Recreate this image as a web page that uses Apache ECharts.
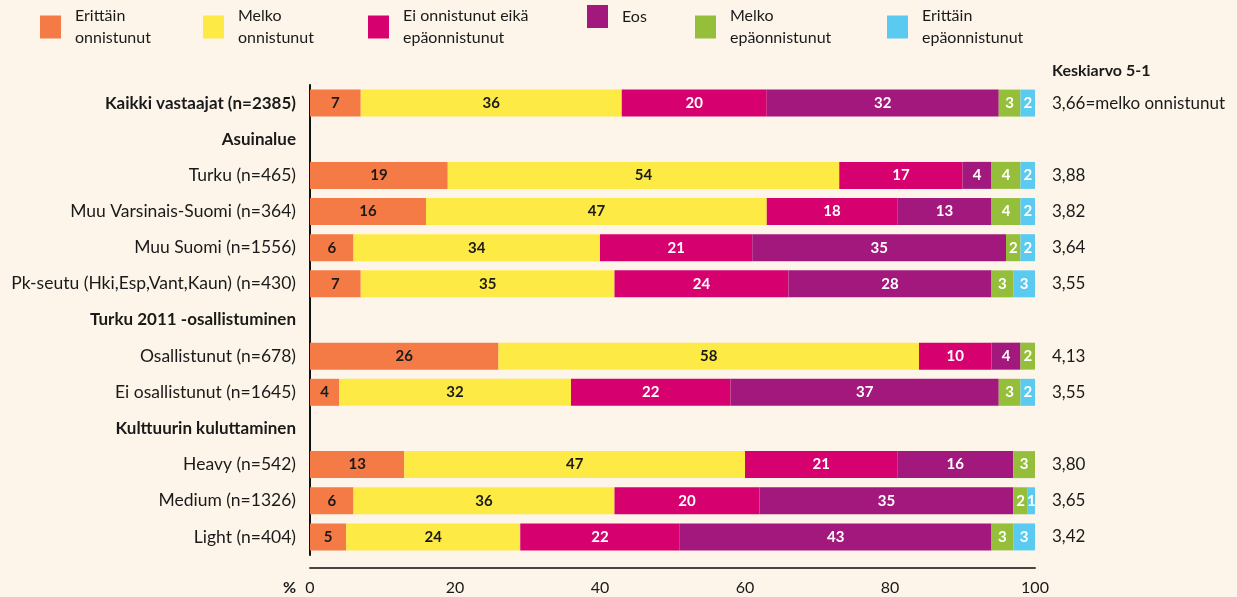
<!DOCTYPE html>
<html>
<head>
<meta charset="utf-8">
<script src="https://cdn.jsdelivr.net/npm/echarts@6/dist/echarts.min.js"></script>
<style>
  html, body { margin: 0; padding: 0; background: #fdf5e9; }
  #chart { width: 1237px; height: 597px; }
</style>
</head>
<body>
<div id="chart"></div>
<script>
// rows top to bottom, group headers have no bar
const categories = [
  'Kaikki vastaajat (n=2385)', 'Asuinalue', 'Turku (n=465)', 'Muu Varsinais-Suomi (n=364)',
  'Muu Suomi (n=1556)', 'Pk-seutu (Hki,Esp,Vant,Kaun) (n=430)', 'Turku 2011 -osallistuminen',
  'Osallistunut (n=678)', 'Ei osallistunut (n=1645)', 'Kulttuurin kuluttaminen',
  'Heavy (n=542)', 'Medium (n=1326)', 'Light (n=404)'
]
const boldRows = ['Kaikki vastaajat (n=2385)', 'Asuinalue', 'Turku 2011 -osallistuminen', 'Kulttuurin kuluttaminen']

const erittainOnnistunut = [7, null, 19, 16, 6, 7, null, 26, 4, null, 13, 6, 5]
const melkoOnnistunut = [36, null, 54, 47, 34, 35, null, 58, 32, null, 47, 36, 24]
const eiEika = [20, null, 17, 18, 21, 24, null, 10, 22, null, 21, 20, 22]
const eos = [32, null, 4, 13, 35, 28, null, 4, 37, null, 16, 35, 43]
const melkoEpaonnistunut = [3, null, 4, 4, 2, 3, null, 2, 3, null, 3, 2, 3]
const erittainEpaonnistunut = [2, null, 2, 2, 2, 3, null, null, 2, null, null, 1, 3]

const means = ['3,66=melko onnistunut', '', '3,88', '3,82', '3,64', '3,55', '', '4,13', '3,55', '', '3,80', '3,65', '3,42']
const xTicks = { min: 0, max: 100, interval: 20 }

const seriesDefs = [
  { name: 'Erittäin\nonnistunut', data: erittainOnnistunut, color: '#f47a46', text: '#1a1a1a', left: 40 },
  { name: 'Melko\nonnistunut', data: melkoOnnistunut, color: '#feea45', text: '#1a1a1a', left: 203 },
  { name: 'Ei onnistunut eikä\nepäonnistunut', data: eiEika, color: '#d6006f', text: '#ffffff', left: 368 },
  { name: 'Eos', data: eos, color: '#a3187c', text: '#ffffff', left: 587 },
  { name: 'Melko\nepäonnistunut', data: melkoEpaonnistunut, color: '#95be3b', text: '#ffffff', left: 695 },
  { name: 'Erittäin\nepäonnistunut', data: erittainEpaonnistunut, color: '#5bcaf0', text: '#ffffff', left: 887 }
]

const font = 'Lato'
var myChart = echarts.init(document.getElementById('chart'))

var option = {
  backgroundColor: '#fdf5e9',
  textStyle: { fontFamily: font },
  title: {
    text: 'Keskiarvo 5-1',
    left: 1052, top: 63, padding: 0,
    textStyle: { fontFamily: font, fontSize: 16, fontWeight: 'bold', color: '#1a1a1a' }
  },
  legend: seriesDefs.map(d => ({
    data: [d.name],
    left: d.left, top: 5, padding: 0,
    itemWidth: 21, itemHeight: 23,
    icon: 'rect',
    selectedMode: false,
    textStyle: { fontFamily: font, fontSize: 16, lineHeight: 22, color: '#1a1a1a', padding: [0, 0, 0, 9] }
  })),
  grid: { left: 310, right: 202, top: 85, bottom: 42 },
  xAxis: {
    type: 'value',
    min: xTicks.min, max: xTicks.max, interval: xTicks.interval,
    offset: 13,
    name: '%',
    nameLocation: 'start',
    nameGap: 14,
    nameTextStyle: { fontFamily: font, fontSize: 16, fontWeight: 'bold', color: '#1a1a1a', align: 'right', verticalAlign: 'top', padding: [12, 0, 0, 0] },
    axisLine: { show: true, lineStyle: { color: '#4a4543', width: 2 } },
    axisTick: { show: false },
    splitLine: { show: false },
    axisLabel: { fontFamily: font, fontSize: 16, color: '#1a1a1a', margin: 12 }
  },
  yAxis: [
    {
      type: 'category',
      data: categories,
      inverse: true,
      axisLine: { show: true, lineStyle: { color: '#111111', width: 2 } },
      axisTick: { show: false },
      axisLabel: {
        margin: 14,
        fontFamily: font, fontSize: 17.5, color: '#1a1a1a',
        formatter: v => boldRows.includes(v) ? '{b|' + v + '}' : v,
        rich: { b: { fontFamily: font, fontSize: 17, fontWeight: 'bold', color: '#1a1a1a' } }
      }
    },
    {
      type: 'category',
      data: categories,
      inverse: true,
      position: 'right',
      axisLine: { show: false },
      axisTick: { show: false },
      axisLabel: {
        margin: 17,
        fontFamily: font, fontSize: 17, color: '#1a1a1a',
        formatter: (v, i) => means[i]
      }
    }
  ],
  series: seriesDefs.map(d => ({
    name: d.name,
    type: 'bar',
    stack: 'total',
    barWidth: 27,
    data: d.data,
    itemStyle: { color: d.color },
    label: {
      show: true,
      position: 'inside',
      formatter: '{c}',
      fontFamily: font, fontSize: 15, fontWeight: 'bold',
      color: d.text
    }
  }))
}

myChart.setOption(option)
</script>
</body>
</html>
